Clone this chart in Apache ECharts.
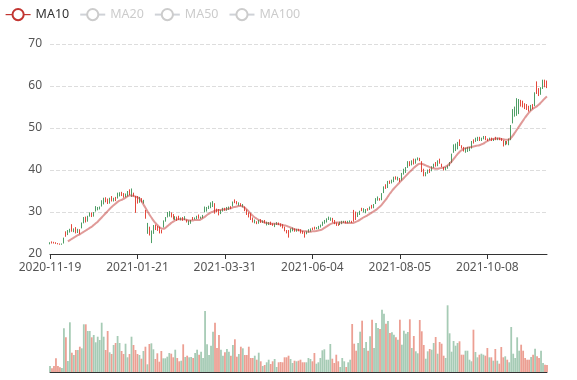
<!DOCTYPE html>
<html><head><meta charset="utf-8">
<script src="https://cdn.jsdelivr.net/npm/echarts/dist/echarts.min.js"></script>
<style>html,body{margin:0;padding:0;background:#fff}#main{width:577px;height:380px}</style>
</head><body><div id="main"></div>
<script>
// trading calendar: weekdays from the first date, skipping market holidays
const firstDate = '2020-11-19';
const holidays = ['2021-01-01','2021-02-11','2021-02-12','2021-02-15','2021-02-16','2021-02-17',
  '2021-04-05','2021-05-03','2021-05-04','2021-09-21','2021-10-01'];

const opens = [
22.7,22.6,22.6,22.5,22.4,22.3,22.4,23.8,24.3,25.4,
25.8,25.4,25.8,25.0,25.7,24.9,27.4,28.6,27.6,29.0,
29.6,29.0,29.9,31.3,31.0,31.2,32.6,33.3,32.4,32.0,
33.3,32.6,33.2,32.7,34.5,34.5,33.9,33.5,34.2,34.9,
34.1,35.5,33.8,29.9,32.2,33.4,32.4,32.8,28.5,27.3,
24.6,25.5,26.8,25.8,25.6,25.0,25.0,27.9,28.6,29.9,
30.0,28.8,28.3,28.8,28.0,28.2,28.6,28.0,28.9,27.6,
27.9,28.0,28.2,28.5,29.0,28.5,28.7,29.2,31.2,31.0,
31.3,32.2,32.4,29.8,30.0,29.3,30.4,30.8,30.4,31.1,
31.2,30.8,32.4,32.2,31.9,32.1,31.5,31.7,30.3,29.4,
28.8,28.2,27.6,28.1,27.2,28.0,27.5,27.9,27.4,27.6,
27.5,27.0,26.8,27.2,27.5,27.0,26.6,26.2,25.5,25.0,
24.0,26.0,26.2,25.4,25.9,25.5,25.0,24.9,24.0,25.3,
25.8,26.0,25.8,25.9,26.3,26.6,26.9,27.6,28.0,28.4,
28.8,28.6,27.6,27.2,26.8,26.8,27.6,27.8,27.8,27.4,
27.8,27.9,27.5,27.8,28.2,29.8,30.2,30.3,30.8,30.6,
30.4,31.2,30.9,31.8,33.2,33.6,32.8,34.4,36.0,35.6,
37.3,36.8,37.6,38.3,37.8,38.3,37.2,39.2,40.2,40.6,
42.0,41.0,42.2,41.4,42.6,42.9,42.2,39.6,38.6,39.4,
40.0,39.4,40.8,41.4,40.9,42.2,41.6,40.8,40.0,40.6,
41.0,41.8,43.8,46.0,46.2,46.6,45.8,45.2,44.5,45.2,
45.4,45.4,46.8,46.4,47.6,47.8,47.0,47.6,48.0,47.2,
47.0,47.6,47.0,47.4,47.2,47.6,47.2,47.0,45.8,46.8,
46.2,47.4,50.6,54.4,55.0,57.0,56.8,55.2,55.0,54.6,
54.4,54.0,55.4,54.6,58.4,58.2,57.7,59.6,61.4,59.8,
59.6];

const closes = [
22.4,22.9,22.8,22.7,22.5,22.4,22.3,22.6,25.2,24.6,
25.2,27.0,25.4,26.2,25.2,25.8,26.2,27.4,28.8,27.8,
29.0,29.8,29.0,30.2,30.6,30.8,31.4,32.0,33.4,33.0,
32.1,33.7,32.6,33.5,33.3,33.8,34.6,34.4,33.6,33.8,
35.3,33.8,34.5,33.7,33.7,32.3,33.2,32.2,30.4,25.0,
26.4,22.8,25.0,26.8,26.6,26.4,25.6,26.4,27.8,28.8,
29.0,29.8,29.4,28.2,28.8,28.9,28.2,28.7,28.2,28.0,
27.0,27.3,28.7,28.3,28.4,29.3,28.5,28.6,30.0,30.2,
30.8,31.0,31.3,32.0,30.6,30.6,29.6,30.2,30.9,30.4,
30.6,31.2,31.4,32.8,32.5,31.6,32.0,31.2,31.2,30.5,
29.8,29.6,28.6,27.4,27.6,27.3,28.2,27.5,28.0,26.9,
27.0,27.6,27.2,26.5,27.0,27.4,27.2,27.0,26.4,25.6,
25.6,25.2,25.5,26.0,25.4,25.9,25.8,25.4,25.2,24.8,
25.2,25.4,26.2,26.4,26.0,26.0,26.4,26.8,27.3,27.6,
28.2,28.0,28.5,28.0,27.4,27.2,27.0,27.2,27.5,27.8,
27.4,27.6,27.8,30.4,30.0,28.9,29.4,30.9,30.0,29.8,
30.8,30.6,31.6,31.0,32.0,32.8,33.2,32.9,34.6,36.5,
35.8,37.4,36.9,37.2,38.4,37.6,38.0,37.6,39.0,39.4,
40.6,42.0,41.2,42.6,41.6,42.4,42.8,42.0,40.2,38.6,
39.2,40.2,39.8,40.6,41.8,41.0,42.6,41.4,40.6,40.0,
40.4,41.0,41.8,44.2,44.6,45.0,47.2,45.8,45.4,44.2,
44.4,44.6,45.2,47.2,46.8,47.0,47.8,47.0,47.4,48.0,
47.4,47.2,47.6,47.0,47.8,47.2,47.6,47.5,47.0,46.0,
46.8,46.0,47.2,51.2,52.8,53.0,53.4,56.6,56.4,55.8,
55.6,55.2,54.2,55.6,55.3,61.0,59.4,58.0,59.4,61.4,
61.2];

const lows = [
22.3,22.5,22.5,22.4,22.3,22.2,22.2,22.5,24.1,24.5,
25.1,25.3,25.2,24.9,25.0,24.7,26.1,27.3,27.5,27.7,
28.9,28.8,28.9,30.1,30.4,30.6,31.3,31.8,32.3,31.9,
32.0,32.5,32.5,32.6,33.2,33.7,33.8,33.4,33.5,33.7,
34.0,33.6,33.7,29.8,32.0,32.2,32.3,32.0,28.4,24.8,
24.4,22.6,24.8,25.7,25.5,24.9,24.9,26.3,27.7,28.7,
28.9,28.7,28.2,28.1,27.9,28.1,28.0,27.9,28.1,27.5,
26.9,27.2,28.1,28.2,28.3,28.4,28.4,28.5,29.9,30.1,
30.7,30.9,31.2,29.6,29.9,29.2,29.5,30.1,30.3,30.3,
30.5,30.7,31.3,32.1,31.8,31.5,31.4,31.1,30.2,29.3,
28.7,28.1,27.5,27.3,27.1,27.2,27.4,27.4,27.3,26.8,
26.9,26.9,26.7,26.4,26.9,26.9,26.5,26.1,25.4,24.9,
23.9,25.1,25.4,25.3,25.3,25.4,24.9,24.8,23.9,24.7,
25.1,25.3,25.7,25.8,25.9,25.9,26.3,26.7,27.2,27.5,
28.1,27.9,27.5,27.1,26.7,26.7,26.9,27.1,27.4,27.3,
27.3,27.5,27.4,27.7,28.1,28.8,29.3,30.2,29.9,29.7,
30.3,30.5,30.8,30.9,31.9,32.7,32.7,32.8,34.5,35.5,
35.7,36.7,36.8,37.1,37.7,37.5,37.1,37.5,38.9,39.3,
40.5,40.9,41.1,41.3,41.5,42.3,42.1,39.5,38.5,38.5,
39.1,39.3,39.7,40.5,40.8,40.9,41.5,40.7,39.9,39.9,
40.3,40.9,41.7,44.1,44.5,44.9,45.7,45.1,44.4,44.1,
44.3,44.5,45.1,46.3,46.7,46.9,46.9,46.9,47.3,47.1,
46.9,47.1,46.9,46.9,47.1,47.1,47.1,46.9,45.6,45.9,
46.1,45.9,47.1,51.1,52.7,52.9,53.3,55.1,54.9,54.5,
54.3,53.9,54.1,54.5,55.2,58.1,57.6,57.9,59.3,59.7,
59.5];

const highs = [
22.8,23.0,22.9,22.8,22.6,22.5,22.5,23.9,25.4,25.7,
26.0,27.1,26.1,26.4,26.0,25.9,27.5,28.8,28.9,29.1,
29.9,29.9,30.0,31.4,31.2,31.3,32.8,33.4,33.5,33.2,
33.4,33.8,33.4,33.6,34.6,34.7,34.8,34.5,34.4,35.0,
35.4,35.6,34.6,33.8,33.8,33.6,33.3,32.9,30.5,27.4,
26.5,25.6,26.9,27.0,26.7,26.5,25.8,28.0,28.8,30.0,
30.2,29.9,29.5,29.0,28.9,29.1,28.7,28.8,29.0,28.2,
28.0,28.1,28.8,28.7,29.1,29.4,28.9,29.3,31.3,31.2,
31.5,32.3,32.6,32.1,30.8,30.7,30.5,31.0,31.0,31.2,
31.3,31.4,32.5,33.0,32.6,32.3,32.1,31.9,31.3,30.6,
29.9,29.7,28.7,28.2,27.8,28.1,28.3,28.0,28.1,27.7,
27.6,27.7,27.3,27.3,27.6,27.5,27.3,27.1,26.5,25.7,
25.7,26.1,26.3,26.1,26.0,26.0,25.9,25.5,25.3,25.4,
25.9,26.1,26.3,26.5,26.4,26.7,27.0,27.7,28.1,28.5,
28.9,28.7,28.6,28.1,27.5,27.3,27.7,27.9,27.9,27.9,
27.9,28.0,27.9,30.5,30.1,29.9,30.3,31.0,30.9,30.7,
30.9,31.3,31.7,31.9,33.3,33.7,33.3,34.5,36.1,36.6,
37.4,37.5,37.7,38.4,38.5,38.4,38.1,39.3,40.3,40.7,
42.1,42.1,42.3,42.7,42.7,43.0,42.9,42.1,40.3,39.5,
40.1,40.3,40.9,41.5,41.9,42.3,42.7,41.5,40.7,40.7,
41.1,41.9,43.9,46.1,46.3,46.7,47.3,45.9,45.5,45.3,
45.5,45.5,46.9,47.3,47.7,47.9,47.9,47.7,48.1,48.1,
47.5,47.7,47.7,47.5,47.9,47.7,47.7,47.6,47.1,46.9,
46.9,47.5,50.7,54.5,55.1,57.1,56.9,56.7,56.5,55.9,
55.7,55.3,55.5,55.7,58.5,61.1,59.5,59.7,61.5,61.5,
61.3];

const ma10 = ['-','-','-','-','-','-','-','-','-',
23.0,23.3,23.6,23.9,24.2,24.5,24.7,25.0,25.3,25.6,
25.9,26.2,26.5,26.9,27.3,27.7,28.2,28.7,29.2,29.7,
30.2,30.7,31.2,31.6,32.0,32.4,32.7,32.9,33.1,33.4,
33.7,33.9,33.9,33.8,33.7,33.5,33.2,32.6,31.8,31.0,
30.2,29.4,28.7,28.0,27.4,26.9,26.4,26.1,26.0,26.2,
26.6,27.0,27.4,27.7,28.0,28.2,28.3,28.3,28.3,28.2,
28.1,28.0,28.0,28.0,28.1,28.1,28.1,28.3,28.6,28.9,
29.3,29.6,29.9,30.1,30.3,30.4,30.5,30.5,30.6,30.6,
30.7,30.8,30.9,31.1,31.2,31.3,31.4,31.4,31.3,31.0,
30.6,30.1,29.6,29.1,28.7,28.4,28.1,27.9,27.7,27.5,
27.4,27.3,27.2,27.2,27.2,27.2,27.1,27.0,26.9,26.8,
26.7,26.5,26.3,26.1,25.9,25.8,25.7,25.6,25.5,25.4,
25.4,25.3,25.3,25.4,25.4,25.5,25.6,25.7,25.9,26.2,
26.5,26.8,27.1,27.3,27.4,27.5,27.5,27.5,27.5,27.5,
27.4,27.4,27.4,27.4,27.5,27.7,27.9,28.2,28.5,28.8,
29.0,29.3,29.6,29.9,30.2,30.5,30.9,31.3,31.8,32.4,
33.0,33.7,34.4,35.0,35.6,36.1,36.6,37.1,37.6,38.1,
38.6,39.1,39.6,40.0,40.5,40.9,41.3,41.5,41.5,41.3,
41.1,40.9,40.7,40.5,40.4,40.3,40.3,40.4,40.5,40.6,
40.8,41.1,41.5,42.0,42.6,43.2,43.8,44.3,44.7,45.0,
45.2,45.3,45.4,45.5,45.6,45.7,45.8,45.9,46.1,46.3,
46.6,46.9,47.1,47.3,47.4,47.5,47.5,47.5,47.4,47.3,
47.2,47.2,47.3,47.7,48.3,49.0,49.7,50.4,51.1,51.8,
52.5,53.1,53.7,54.2,54.6,54.9,55.2,55.6,56.1,56.6,
57.1,57.5];

const volumes = [
6,3.7,6,13.7,6,4.7,4,43.7,34.7,11,
49.7,19.3,17,22,22,25.3,23.7,47.7,47.7,41,
41,34.7,37,29.7,35.3,32,49.3,35.3,22,41,
19.7,18,27,29,36,29,21,18,28.3,14.7,
18,35.3,27,22,18,17,13.3,21,25.3,7.7,
28,28.7,22.7,13,18.7,10.3,21,13.7,13.7,15.3,
19,18.3,14.7,22.3,14,10.7,11.3,27.7,15,16.3,
14.7,15,14,19,22.3,17.3,20.3,14,61,27.7,
17,26.3,40.3,49.3,24,37,22.3,16.3,19.7,23,
20.3,16.3,27,32.7,15.3,18,25.3,23.7,17,17,
25.3,14,14,16.3,12.3,19.3,10.7,6,7,9.7,
12.3,8,10.7,13,5,9.7,10,9.7,14.7,14.7,
16.3,13,9,11.3,10.7,11.3,12.3,9.7,9.7,9.7,
14,13,10.7,19,8.3,9.7,14,21.7,22.7,12.3,
12.3,28,13.3,9,17.3,10.7,5,14,10.7,5,
9.7,12.3,48,28.3,21.3,29,40.3,51.3,24,30,
21.3,35.7,52.3,24,49,44,43,62.3,58.3,48.3,
51,39,39.7,37.3,34.7,32.3,52.3,27.3,41.3,38.3,
40,52.7,24,36,20.7,18.7,52,40.7,27,13.3,
20.7,23,22.3,29,35,18.3,30,28.3,16.3,14,
66.7,38.7,20.3,31,26.3,29,30.7,17.3,17.3,21.3,
21.3,12.3,10.7,42.3,20,14.7,17.3,18.3,17.3,16.3,
24,14.7,14.7,11.3,23,11.3,8.3,25,14.7,15.7,
12.3,9.7,45,18.3,14,34.7,21.3,27.3,21.3,14,
12.3,12.3,15,17.3,23.3,15.7,14,21.3,9,7.3,
7];

const legendNames = ['MA10','MA20','MA50','MA100'];
const priceTicks = { min: 20, max: 70, step: 10 };

function tradingDays(start, count, skip) {
  const out = [];
  const d = new Date(start + 'T00:00:00Z');
  while (out.length < count) {
    const wd = d.getUTCDay();
    const s = d.toISOString().slice(0, 10);
    if (wd !== 0 && wd !== 6 && skip.indexOf(s) < 0) out.push(s);
    d.setUTCDate(d.getUTCDate() + 1);
  }
  return out;
}
const dates = tradingDays(firstDate, closes.length, holidays);

const upColor = '#e4493c', downColor = '#4e9e66';
const volUp = '#ec9f93', volDown = '#a6cbb5';
const candleData = opens.map((o, i) => [o, closes[i], lows[i], highs[i]]);
const volData = volumes.map((v, i) => ({
  value: v,
  itemStyle: { color: closes[i] >= opens[i] ? volUp : volDown }
}));

function maSeries(name, color, data) {
  return { name: name, type: 'line', data: data, smooth: true, showSymbol: false,
    symbol: 'emptyCircle', symbolSize: 8, color: color,
    itemStyle: { borderWidth: 1 }, lineStyle: { width: 2, opacity: 0.5 } };
}

const chart = echarts.init(document.getElementById('main'));
chart.setOption({
  animation: false,
  textStyle: { fontFamily: 'Noto Sans' },
  legend: {
    data: legendNames, left: 0, top: 3, itemGap: 10, itemWidth: 25, itemHeight: 14,
    selected: { MA20: false, MA50: false, MA100: false },
    itemStyle: { borderWidth: 1 },
    lineStyle: { width: 1.2, opacity: 1 },
    textStyle: { color: '#333', fontSize: 12.5 }, inactiveColor: '#ccc'
  },
  grid: [
    { left: 50, right: 30, top: 44, height: 210 },
    { left: 50, right: 30, top: 292, height: 80 }
  ],
  xAxis: [
    { type: 'category', gridIndex: 0, data: dates, boundaryGap: false,
      axisLine: { lineStyle: { color: '#333' } },
      axisTick: { interval: 43, lineStyle: { color: '#333' } },
      axisLabel: { interval: 43, color: '#555', fontSize: 12 },
      splitLine: { show: false } },
    { type: 'category', gridIndex: 1, data: dates, boundaryGap: false,
      axisLine: { lineStyle: { color: '#333' } },
      axisTick: { show: false }, axisLabel: { show: false }, splitLine: { show: false } }
  ],
  yAxis: [
    { type: 'value', gridIndex: 0, min: priceTicks.min, max: priceTicks.max, interval: priceTicks.step,
      axisLine: { show: false }, axisTick: { show: false },
      axisLabel: { color: '#555', fontSize: 12 },
      splitLine: { lineStyle: { type: 'dashed', color: '#ddd' } } },
    { type: 'value', gridIndex: 1, min: 0, max: 80, show: false, splitLine: { show: false } }
  ],
  series: [
    { name: 'K', type: 'candlestick', data: candleData,
      itemStyle: { color: upColor, color0: downColor, borderColor: upColor, borderColor0: downColor } },
    maSeries('MA10', '#c23531', ma10),
    maSeries('MA20', '#2f4554', []),
    maSeries('MA50', '#61a0a8', []),
    maSeries('MA100', '#d48265', []),
    { name: 'Volume', type: 'bar', xAxisIndex: 1, yAxisIndex: 1, data: volData, barCategoryGap: '10%' }
  ]
});
</script>
</body></html>
